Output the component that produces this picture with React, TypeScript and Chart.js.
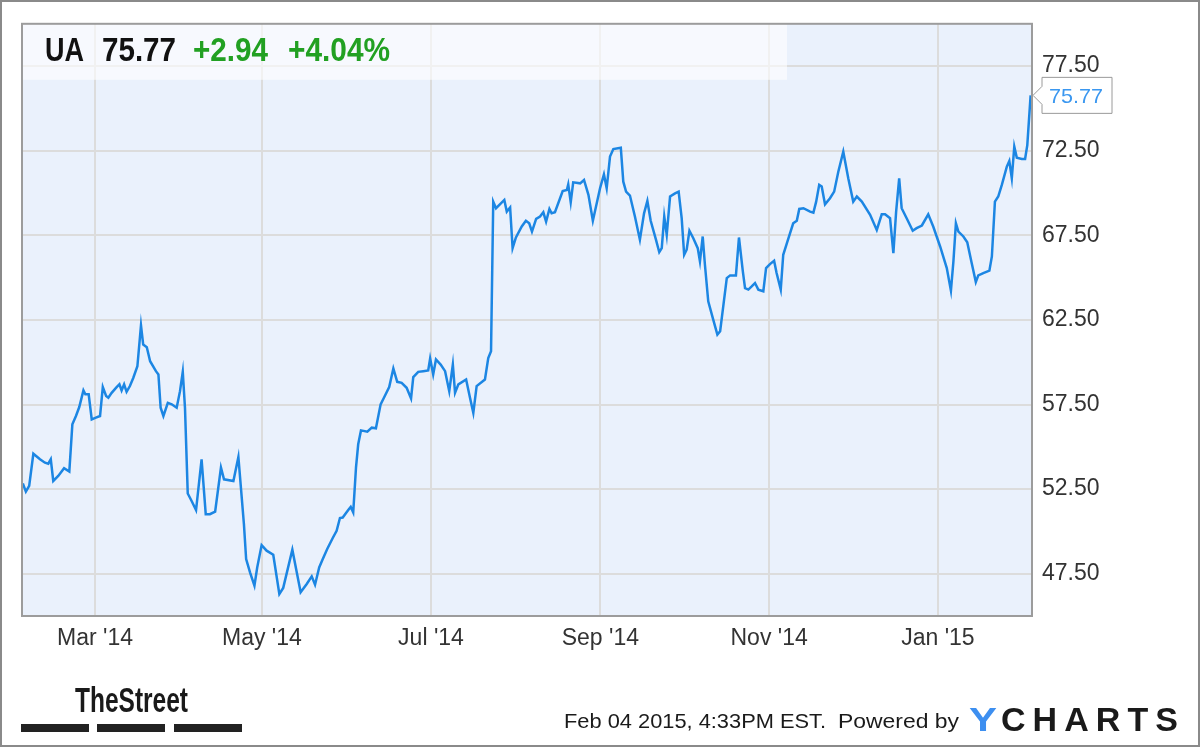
import React, { useEffect, useRef } from 'react';
import { Chart, registerables } from 'chart.js';

Chart.register(...registerables);

// ---- header / meta text ----
const ticker = 'UA';
const lastPriceText = '75.77';
const changeText = '+2.94';
const changePctText = '+4.04%';
const footerDate = 'Feb 04 2015, 4:33PM EST.';
const footerPowered = 'Powered by';

// ---- axes ----
// x values are days counted from 2014-02-04
const xMinDay = 0;
const xMaxDay = 365;
const monthTickDays = [26.4, 86.7, 147.8, 209, 270, 331];
const monthTickLabels = ["Mar '14", "May '14", "Jul '14", "Sep '14", "Nov '14", "Jan '15"];
const yMin = 45;
const yMax = 80;
const priceTicks = [47.5, 52.5, 57.5, 62.5, 67.5, 72.5, 77.5];

// ---- series (UA closing price) ----
const dayOffsets = [
  0.3, 1.4, 2.6, 4.1, 6.5, 8.3, 9.5, 10.4, 11.3, 13.1, 15.2, 17.1, 18.2, 19.5, 20.7, 22.2, 22.9, 24.1, 25.2, 26.7,
  28.2, 29.2, 30.4, 31.2, 32.4, 34.2, 35.2, 36.0, 36.9, 37.8, 39.0, 40.2, 41.7, 43.0, 43.8, 45.1, 46.3, 48.4, 49.3, 50.1,
  51.1, 52.7, 54.1, 55.9, 57.1, 58.1, 58.9, 59.9, 61.3, 62.9, 64.9, 66.4, 67.9, 69.8, 71.9, 73.0, 76.4, 78.2, 80.2, 81.0,
  82.4, 84.0, 85.0, 86.6, 88.4, 90.8, 93.0, 94.4, 97.7, 100.7, 102.9, 104.7, 105.9, 107.4, 108.7, 110.3, 112.3, 113.7, 114.9, 115.9,
  117.9, 118.8, 119.7, 120.7, 121.5, 122.5, 124.8, 126.4, 127.9, 129.6, 130.8, 132.7, 134.2, 135.6, 137.2, 139.0, 140.6, 141.4, 143.2, 145.0,
  146.8, 147.5, 148.6, 149.6, 151.3, 152.9, 154.4, 155.7, 156.5, 157.7, 160.5, 161.9, 163.1, 164.3, 167.3, 168.5, 169.5, 170.3, 171.3, 172.7,
  174.3, 175.2, 176.4, 177.3, 178.5, 180.6, 182.1, 183.3, 184.3, 185.8, 187.2, 188.4, 189.4, 190.6, 191.4, 192.6, 195.4, 196.9, 197.4, 198.3,
  199.2, 201.7, 203.1, 204.7, 206.3, 208.9, 210.3, 211.3, 212.5, 213.7, 216.4, 217.3, 218.3, 219.7, 221.5, 223.3, 224.8, 226.0, 227.2, 229.1,
  230.3, 231.2, 232.1, 233.0, 234.2, 236.0, 237.3, 238.4, 239.3, 240.2, 241.2, 242.6, 244.2, 245.0, 246.0, 246.8, 248.0, 249.8, 251.3, 252.3,
  253.5, 254.7, 255.9, 258.0, 259.1, 260.5, 261.3, 262.5, 263.7, 264.9, 266.1, 267.9, 268.9, 270.3, 271.8, 272.7, 274.2, 275.1, 276.6, 278.7,
  280.0, 280.9, 282.4, 284.8, 286.0, 287.0, 288.1, 289.0, 290.2, 292.0, 293.5, 295.0, 296.8, 298.6, 300.4, 301.7, 303.5, 306.5, 308.9, 310.7,
  311.9, 313.7, 314.9, 315.9, 317.0, 317.9, 319.7, 321.9, 323.3, 325.2, 327.5, 329.3, 331.8, 334.2, 335.7, 336.6, 337.5, 338.4, 340.2, 341.6,
  343.2, 344.7, 345.6, 347.4, 349.6, 350.5, 351.6, 352.8, 354.1, 355.9, 356.8, 357.7, 358.6, 359.5, 361.3, 362.5, 363.3, 364.5,
];
const closes = [
  52.83, 52.35, 52.69, 54.59, 54.26, 54.06, 54.00, 54.26, 52.98, 53.28, 53.73, 53.53, 56.33, 56.82, 57.35, 58.33, 58.10, 58.10, 56.62, 56.72,
  56.82, 58.53, 58.00, 57.90, 58.19, 58.53, 58.69, 58.33, 58.69, 58.25, 58.59, 59.07, 59.76, 62.18, 61.04, 60.89, 60.06, 59.47, 59.28, 57.31,
  56.82, 57.60, 57.51, 57.31, 58.29, 59.43, 57.31, 52.24, 51.80, 51.26, 54.26, 51.02, 51.02, 51.17, 53.77, 53.08, 52.98, 54.40, 50.43, 48.37,
  47.58, 46.79, 47.87, 49.19, 48.86, 48.62, 46.30, 46.66, 48.92, 46.40, 46.89, 47.34, 46.85, 47.87, 48.37, 48.96, 49.61, 50.04, 50.79, 50.82,
  51.26, 51.45, 51.12, 53.77, 55.15, 55.97, 55.89, 56.13, 56.09, 57.51, 57.90, 58.53, 59.63, 58.84, 58.78, 58.49, 57.86, 59.12, 59.43, 59.47,
  59.51, 60.22, 59.28, 60.16, 59.86, 59.47, 58.29, 59.86, 58.19, 58.69, 58.98, 57.90, 57.01, 58.59, 58.98, 60.25, 60.65, 69.49, 69.10, 69.33,
  69.59, 68.90, 69.14, 66.74, 67.37, 68.02, 68.36, 68.21, 67.72, 68.47, 68.61, 68.86, 68.31, 69.06, 68.80, 68.86, 70.12, 70.18, 70.51, 69.45,
  70.63, 70.57, 70.77, 69.89, 68.36, 70.28, 71.10, 70.28, 72.15, 72.60, 72.68, 70.67, 70.08, 69.85, 68.61, 67.24, 68.80, 69.53, 68.36, 67.24,
  66.50, 66.74, 68.61, 67.53, 69.79, 69.98, 70.08, 68.51, 66.35, 66.65, 67.77, 67.33, 66.74, 65.96, 67.43, 65.76, 63.60, 62.52, 61.63, 61.83,
  63.40, 64.97, 65.13, 65.13, 67.37, 65.37, 64.38, 64.29, 64.48, 64.68, 64.29, 64.19, 65.56, 65.80, 66.00, 65.27, 64.29, 66.35, 67.13, 68.21,
  68.36, 69.06, 69.10, 68.90, 68.84, 69.49, 70.48, 70.38, 69.33, 69.69, 70.08, 71.26, 72.44, 70.87, 69.49, 69.79, 69.49, 68.71, 67.82, 68.74,
  68.74, 68.51, 66.44, 68.90, 70.87, 69.10, 68.51, 67.77, 67.92, 68.08, 68.74, 68.02, 66.84, 65.56, 64.23, 65.96, 68.21, 67.72, 67.43, 67.09,
  65.86, 64.74, 65.13, 65.27, 65.41, 66.25, 69.49, 69.79, 70.48, 71.56, 71.89, 70.87, 72.74, 72.09, 72.01, 72.01, 72.83, 75.77,
];

const W = 1200;
const H = 747;
const FONT = "'Liberation Sans', Arial, sans-serif";
const LINE_COLOR = '#1c86e3';
const GREEN = '#22a022';

function fitText(ctx: CanvasRenderingContext2D, text: string, x: number, baseline: number, width: number, font: string, color: string) {
  ctx.save();
  ctx.font = font;
  ctx.fillStyle = color;
  ctx.textAlign = 'left';
  ctx.textBaseline = 'alphabetic';
  const w = ctx.measureText(text).width;
  ctx.translate(x, baseline);
  ctx.scale(width / w, 1);
  ctx.fillText(text, 0, 0);
  ctx.restore();
}

function spacedText(ctx: CanvasRenderingContext2D, text: string, x: number, baseline: number, width: number, font: string, color: string) {
  ctx.save();
  ctx.font = font;
  ctx.fillStyle = color;
  ctx.textAlign = 'left';
  ctx.textBaseline = 'alphabetic';
  const chars = text.split('');
  const widths = chars.map((c) => ctx.measureText(c).width);
  const total = widths.reduce((s, v) => s + v, 0);
  const gap = chars.length > 1 ? (width - total) / (chars.length - 1) : 0;
  let cx = x;
  chars.forEach((c, i) => {
    ctx.fillText(c, cx, baseline);
    cx += widths[i] + gap;
  });
  ctx.restore();
}

const decorPlugin = {
  id: 'decor',
  beforeDraw(chart: any) {
    const { ctx, chartArea: a } = chart;
    ctx.save();
    ctx.fillStyle = '#ffffff';
    ctx.fillRect(0, 0, W, H);
    ctx.fillStyle = '#eaf1fc';
    ctx.fillRect(a.left, a.top, a.right - a.left, a.bottom - a.top);
    ctx.restore();
  },
  beforeDatasetsDraw(chart: any) {
    const { ctx, chartArea: a } = chart;
    ctx.save();
    ctx.fillStyle = 'rgba(255,255,255,0.6)';
    ctx.fillRect(a.left, a.top, 765, 56);
    ctx.restore();
    const bold = `bold 33px ${FONT}`;
    fitText(ctx, ticker, 45, 61, 39, bold, '#111111');
    fitText(ctx, lastPriceText, 102, 61, 74, bold, '#111111');
    fitText(ctx, changeText, 193, 61, 75, bold, GREEN);
    fitText(ctx, changePctText, 288, 61, 102, bold, GREEN);
  },
  afterDraw(chart: any) {
    const { ctx, chartArea: a } = chart;
    ctx.save();
    // plot frame
    ctx.strokeStyle = '#9c9c9c';
    ctx.lineWidth = 2;
    ctx.strokeRect(a.left, a.top, a.right - a.left, a.bottom - a.top);
    // outer frame
    ctx.strokeStyle = '#8a8a8a';
    ctx.lineWidth = 2;
    ctx.strokeRect(1, 1, W - 2, H - 2);

    // last price tag
    const meta = chart.getDatasetMeta(0);
    const last = meta.data[meta.data.length - 1];
    const py = last.y;
    const bx = a.right + 10;
    ctx.beginPath();
    ctx.moveTo(bx, py - 18);
    ctx.lineTo(bx + 70, py - 18);
    ctx.lineTo(bx + 70, py + 18);
    ctx.lineTo(bx, py + 18);
    ctx.lineTo(bx, py + 9);
    ctx.lineTo(a.right + 1, py);
    ctx.lineTo(bx, py - 9);
    ctx.closePath();
    ctx.fillStyle = '#ffffff';
    ctx.fill();
    ctx.strokeStyle = '#9a9a9a';
    ctx.lineWidth = 1;
    ctx.stroke();
    ctx.restore();
    fitText(ctx, lastPriceText, bx + 7, py + 8, 54, `21px ${FONT}`, '#3a97f0');

    // footer: TheStreet logo
    fitText(ctx, 'TheStreet', 75, 712, 113, `bold 35px ${FONT}`, '#1a1a1a');
    ctx.save();
    ctx.fillStyle = '#222222';
    ctx.fillRect(21, 724, 68, 8);
    ctx.fillRect(97, 724, 68, 8);
    ctx.fillRect(174, 724, 68, 8);
    ctx.restore();

    // footer text
    fitText(ctx, footerDate, 564, 728, 262, `21px ${FONT}`, '#1a1a1a');
    fitText(ctx, footerPowered, 838, 728, 121, `21px ${FONT}`, '#1a1a1a');
    fitText(ctx, 'Y', 969, 731, 28, `bold 34px ${FONT}`, '#3d8ff0');
    spacedText(ctx, 'CHARTS', 1001, 731, 177, `bold 34px ${FONT}`, '#1a1a1a');
  },
};

export default function App() {
  const ref = useRef<HTMLCanvasElement | null>(null);

  useEffect(() => {
    document.body.style.margin = '0';
    const canvas = ref.current;
    if (!canvas) return;
    const points = dayOffsets.map((d, i) => ({ x: d, y: closes[i] }));
    const tickFont = { family: FONT, size: 23 };
    const chart = new Chart(canvas, {
      type: 'line',
      data: {
        datasets: [
          {
            label: 'UA',
            data: points,
            borderColor: LINE_COLOR,
            borderWidth: 2.5,
            pointRadius: 0,
            tension: 0,
            fill: false,
          },
        ],
      },
      options: {
        responsive: false,
        animation: false,
        devicePixelRatio: 1,
        layout: { padding: { left: 22, top: 20, right: 0, bottom: 0 } },
        plugins: { legend: { display: false }, tooltip: { enabled: false } },
        scales: {
          x: {
            type: 'linear',
            position: 'bottom',
            min: xMinDay,
            max: xMaxDay,
            afterBuildTicks: (s: any) => {
              s.ticks = monthTickDays.map((v) => ({ value: v }));
            },
            afterFit: (s: any) => {
              s.height = 131;
            },
            ticks: {
              autoSkip: false,
              maxRotation: 0,
              minRotation: 0,
              padding: 9,
              color: '#333333',
              font: tickFont,
              callback: (v: any) => {
                const i = monthTickDays.indexOf(Number(v));
                return i >= 0 ? monthTickLabels[i] : '';
              },
            },
            grid: { color: '#dcdcdc', lineWidth: 2, drawTicks: false },
            border: { display: false },
          },
          y: {
            type: 'linear',
            position: 'right',
            min: yMin,
            max: yMax,
            afterBuildTicks: (s: any) => {
              s.ticks = priceTicks.map((v) => ({ value: v }));
            },
            afterFit: (s: any) => {
              s.width = 168;
            },
            ticks: {
              padding: 10,
              color: '#333333',
              font: tickFont,
              callback: (v: any) => Number(v).toFixed(2),
            },
            grid: { color: '#dcdcdc', lineWidth: 2, drawTicks: false },
            border: { display: false },
          },
        },
      },
      plugins: [decorPlugin],
    });
    return () => chart.destroy();
  }, []);

  return <canvas ref={ref} width={W} height={H} style={{ display: 'block', width: W, height: H }} />;
}
